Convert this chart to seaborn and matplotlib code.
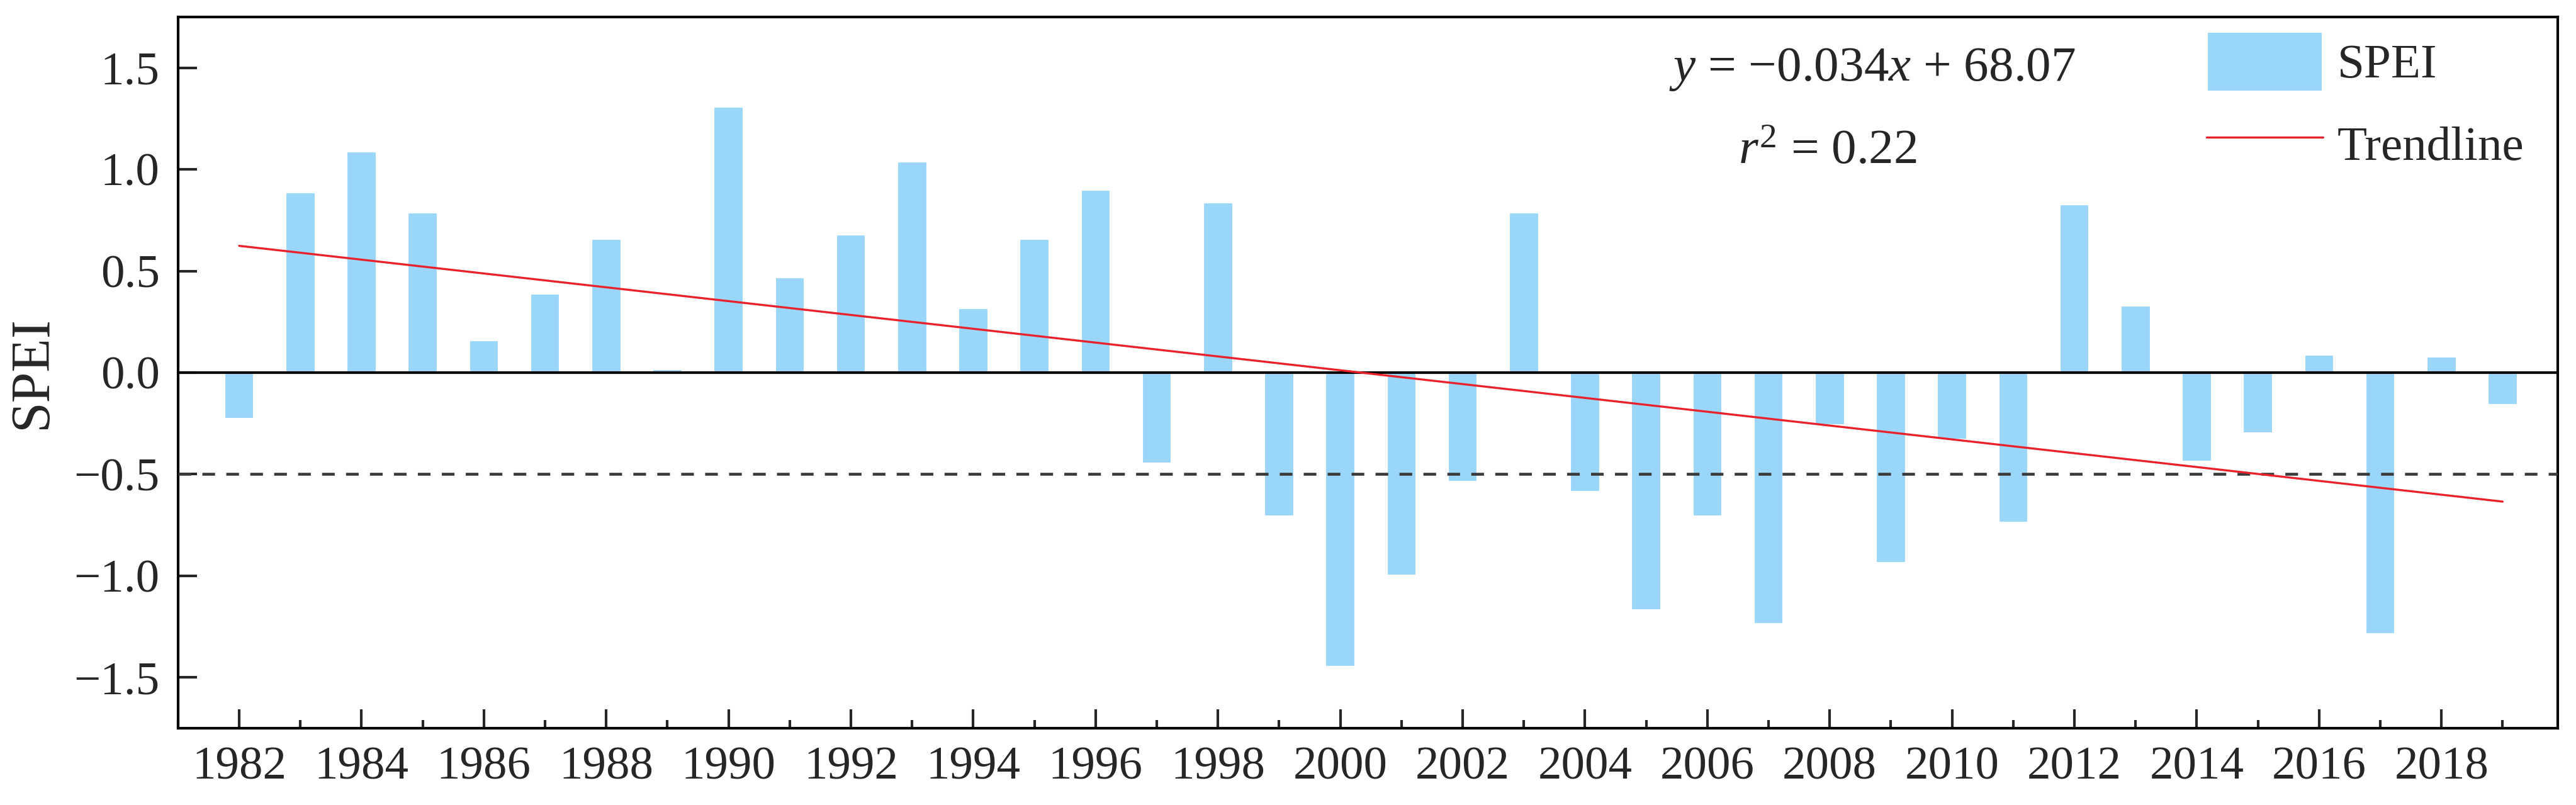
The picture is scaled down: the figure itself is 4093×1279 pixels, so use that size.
import numpy as np
import pandas as pd
import matplotlib.pyplot as plt
import seaborn as sns
from matplotlib.ticker import MultipleLocator

#%% podaci
years = list(range(1982, 2020))
spei = [-0.23, 0.89, 1.09, 0.79, 0.16, 0.39, 0.66, 0.02, 1.31, 0.47,
        0.68, 1.04, 0.32, 0.66, 0.90, -0.45, 0.84, -0.71, -1.45, -1.00,
        -0.54, 0.79, -0.59, -1.17, -0.71, -1.24, -0.26, -0.94, -0.33, -0.74,
        0.83, 0.33, -0.44, -0.30, 0.09, -1.29, 0.08, -0.16]
eq_text = r'$y$ = $-$0.034$x$ + 68.07'
r2_text = r'$r^2$ = 0.22'
drought_level = -0.5

df = pd.DataFrame({'year': years, 'SPEI': spei})

# linearni trend
coef = np.polyfit(df['year'], df['SPEI'], 1)
df['trend'] = np.polyval(coef, df['year'])

#%% crtanje
sns.set_style('ticks')
plt.rcParams['font.family'] = ['Liberation Serif', 'DejaVu Serif']
plt.rcParams['mathtext.fontset'] = 'custom'
plt.rcParams['mathtext.rm'] = 'Liberation Serif'
plt.rcParams['mathtext.it'] = 'Liberation Serif:italic'

fig = plt.figure(figsize=(4093 / 300, 1279 / 300), dpi=300)
ax = fig.add_axes([0.0691, 0.0954, 0.9238, 0.8835])

sns.barplot(data=df, x='year', y='SPEI', native_scale=True, width=0.5,
            color='#9AD6F9', saturation=1, label='SPEI', ax=ax, zorder=2)
sns.lineplot(data=df, x='year', y='trend', color='#E8212B', lw=0.8,
             label='Trendline', ax=ax, zorder=4)

ax.axhline(0, color='black', lw=1.0, zorder=3)
ax.axhline(drought_level, color='#3a3a3a', lw=1.1, ls=(0, (4.4, 3.9)), zorder=3)

ax.set_xlim(1981, 2019.9)
ax.set_ylim(-1.75, 1.75)
ax.xaxis.set_major_locator(MultipleLocator(2))
ax.xaxis.set_minor_locator(MultipleLocator(1))
ax.set_yticks([-1.5, -1.0, -0.5, 0.0, 0.5, 1.0, 1.5])
ax.set_yticklabels(['\u22121.5', '\u22121.0', '\u22120.5', '0.0', '0.5', '1.0', '1.5'])

ax.tick_params(axis='both', which='major', direction='in', length=7.3, width=1.0,
               labelsize=18, pad=7)
ax.tick_params(axis='x', which='minor', direction='in', length=3.1, width=1.0)
ax.tick_params(axis='y', which='minor', left=False)
ax.tick_params(top=False, right=False)
for s in ax.spines.values():
    s.set_linewidth(1.0)
    s.set_color('black')

ax.set_xlabel('')
ax.set_ylabel('SPEI', fontsize=21, labelpad=6)

# jednacina trenda
ax.text(2008.7, 1.49, eq_text, fontsize=19, ha='center', va='center')
ax.text(2007.97, 1.09, r2_text, fontsize=19, ha='center', va='center')

# legenda: prvo SPEI pa Trendline
handles, labels = ax.get_legend_handles_labels()
order = [labels.index('SPEI'), labels.index('Trendline')]
ax.legend([handles[i] for i in order], [labels[i] for i in order],
          loc='upper left', bbox_to_anchor=(0.8524, 0.98), frameon=False,
          fontsize=18.5, handlelength=2.4, handleheight=1.55, handletextpad=0.3,
          labelspacing=0.45, borderpad=0, borderaxespad=0)

fig.savefig('out.png', dpi=300)
